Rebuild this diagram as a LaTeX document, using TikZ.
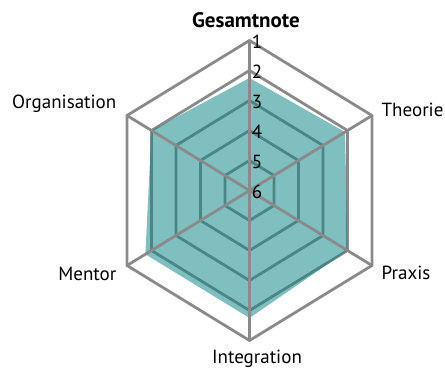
\documentclass[tikz,border=0pt]{standalone}
\usepackage{fontspec}
\setmainfont{PT Sans}
\definecolor{gridgray}{RGB}{138,138,138}
\definecolor{tealfill}{RGB}{16,134,134}
\begin{document}
\begin{tikzpicture}[x=1pt,y=1pt,
  grid/.style={draw=gridgray,line width=2.8pt,line join=miter},
  lbl/.style={font=\fontsize{19}{21}\selectfont,inner sep=0pt},
  tick/.style={font=\fontsize{19}{21}\selectfont,inner sep=0pt,anchor=west}]
\useasboundingbox (0,0) rectangle (445,369);
\begin{scope}[shift={(249.5,178.5)},x=0.943pt,y=1pt]
  % axis end points
  \foreach \a/\n in {90/g,30/t,-30/p,-90/i,-150/m,150/o}{
    \coordinate (\n) at (\a:150);
  }
  \coordinate (c) at (0,0);
  % inner rings
  \foreach \r in {120,90,60,30}{
    \draw[grid] (90:\r) -- (30:\r) -- (-30:\r) -- (-90:\r) -- (-150:\r) -- (150:\r) -- cycle;
  }
  % data
  \coordinate (dg) at (90:{(6-2.25)*30});
  \coordinate (dt) at (30:{(6-2.1)*30});
  \coordinate (dp) at (-30:{(6-2.0)*30});
  \coordinate (di) at (-90:{(6-1.75)*30});
  \coordinate (dm) at (-150:{(6-1.75)*30});
  \coordinate (do) at (150:{(6-2.0)*30});
  \fill[tealfill,fill opacity=0.53] (dg) -- (dt) -- (dp) -- (di) -- (dm) -- (do) -- cycle;
  % outer ring and spokes
  \draw[grid] (g) -- (t) -- (p) -- (i) -- (m) -- (o) -- cycle;
  \foreach \n in {g,t,p,i,m,o}{ \draw[grid] (c) -- (\n); }
  % ticks
  \foreach \v in {1,...,6}{
    \node[tick] (tick\v) at (2.4,{(6-\v)*30-1.5}) {\v};
  }
\end{scope}
\node[lbl,font=\fontsize{21}{23}\selectfont\bfseries] (lg) at (246,349) {Gesamtnote};
\node[lbl,anchor=east] (lo) at (116.5,265) {Organisation};
\node[lbl,anchor=west] (lt) at (381.5,259) {Theorie};
\node[lbl,anchor=west] (lp) at (381.5,96) {Praxis};
\node[lbl,anchor=east] (lm) at (116.5,95.5) {Mentor};
\node[lbl] (li) at (257,10) {Integration};
\end{tikzpicture}
\end{document}
